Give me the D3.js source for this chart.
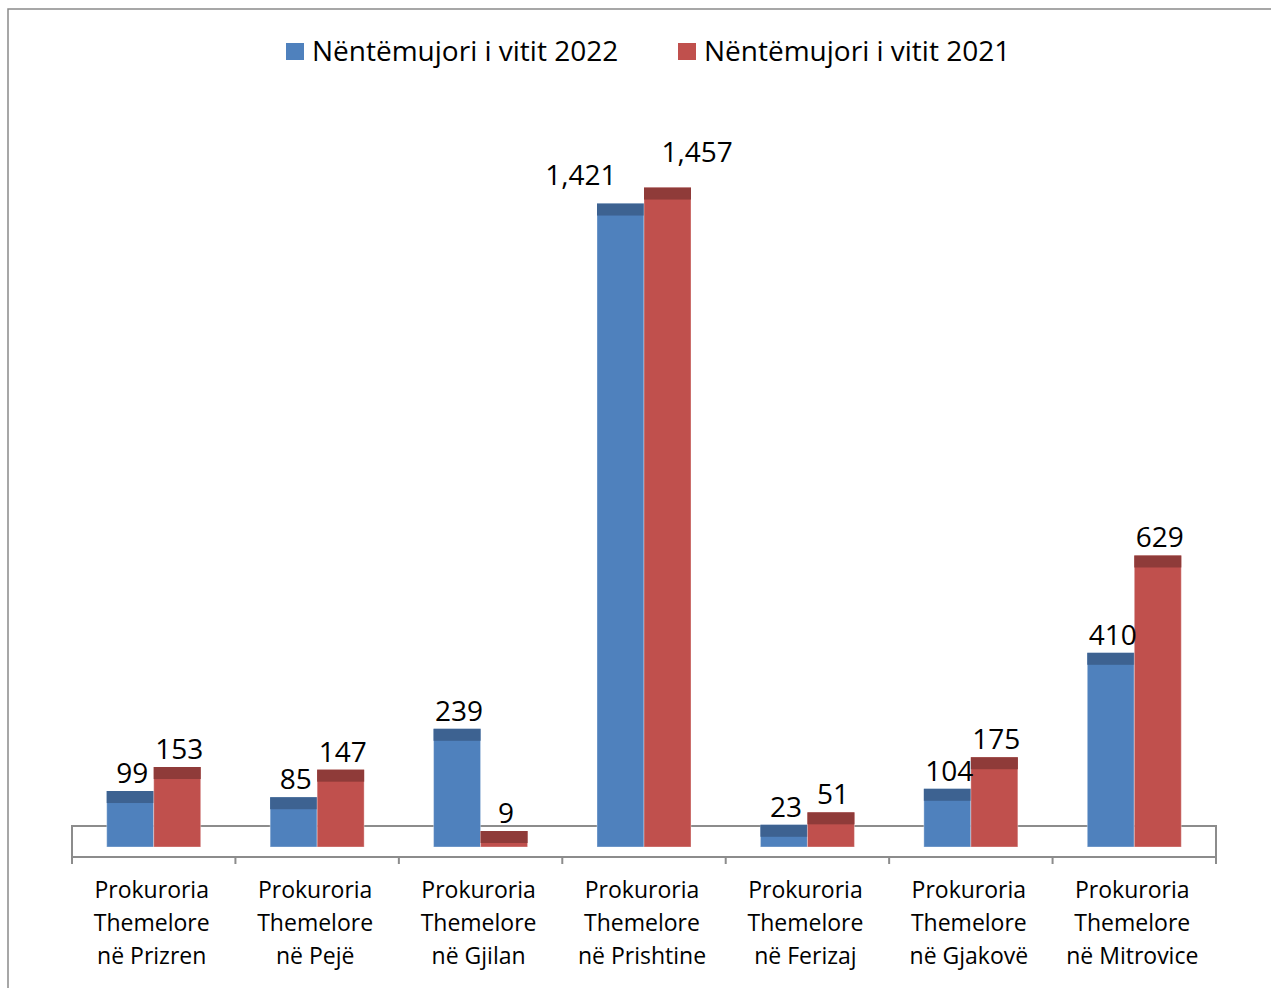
<!DOCTYPE html>
<html>
<head>
<meta charset="utf-8">
<script src="https://cdn.jsdelivr.net/npm/d3@7"></script>
<style>
  body { margin: 0; background: #fff; }
  svg { display: block; font-family: "Open Sans", sans-serif; }
</style>
</head>
<body>
<div id="chart"></div>
<script>
const categories = [
  ["Prokuroria", "Themelore", "në Prizren"],
  ["Prokuroria", "Themelore", "në Pejë"],
  ["Prokuroria", "Themelore", "në Gjilan"],
  ["Prokuroria", "Themelore", "në Prishtine"],
  ["Prokuroria", "Themelore", "në Ferizaj"],
  ["Prokuroria", "Themelore", "në Gjakovë"],
  ["Prokuroria", "Themelore", "në Mitrovice"]
]
const seriesNames = ["Nëntëmujori i vitit 2022", "Nëntëmujori i vitit 2021"]
const values2022 = [99, 85, 239, 1421, 23, 104, 410]
const values2021 = [153, 147, 9, 1457, 51, 175, 629]

const conf = {
  width: 1271, height: 988,
  left: 72, right: 1216,
  floorBack: 826, floorFront: 857, base: 847,
  barWidth: 47, cap: 12,
  colors: ["#4f81bd", "#c0504d"],
  capColors: ["#3d6291", "#8f3b39"],
  grid: "#8c8c8c"
}

const svg = d3.select("#chart").append("svg")
  .attr("width", conf.width).attr("height", conf.height)

// outer frame (top & left edges visible)
svg.append("path")
  .attr("d", `M8,${conf.height} L8,9 L${conf.width},9`)
  .attr("fill", "none").attr("stroke", "#8a8a8a").attr("stroke-width", 1.5)

const x = d3.scaleBand().domain(d3.range(categories.length))
  .range([conf.left, conf.right]).padding(0)
const xs = d3.scaleBand().domain([0, 1])
  .range([-conf.barWidth, conf.barWidth])
const y = d3.scaleLinear().domain([0, 1600]).range([conf.base, 136])

// floor
svg.append("rect")
  .attr("x", conf.left).attr("y", conf.floorBack)
  .attr("width", conf.right - conf.left).attr("height", conf.floorFront - conf.floorBack)
  .attr("fill", "none").attr("stroke", conf.grid).attr("stroke-width", 2)

let ticks = d3.range(categories.length + 1).map(i => conf.left + i * x.bandwidth())
svg.append("g").attr("class", "ticks")
  .selectAll("line").data(ticks).join("line")
  .attr("x1", d => d).attr("x2", d => d)
  .attr("y1", conf.floorFront).attr("y2", conf.floorFront + 7)
  .attr("stroke", conf.grid).attr("stroke-width", 2)

const rows = categories.map((c, i) => [values2022[i], values2021[i]].map((v, s) => ({i, s, v})))
const flat = rows.flat()

const bars = svg.append("g").attr("class", "bars")
  .selectAll("g").data(flat).join("g")
  .attr("transform", d => `translate(${x(d.i) + x.bandwidth() / 2 + xs(d.s)},0)`)

bars.append("rect")
  .attr("y", d => y(d.v) - conf.cap)
  .attr("width", conf.barWidth)
  .attr("height", d => conf.base - y(d.v) + conf.cap)
  .attr("fill", d => conf.colors[d.s])
  .attr("stroke", "#fff").attr("stroke-opacity", 0.35).attr("stroke-width", 1)
bars.append("rect")
  .attr("y", d => y(d.v) - conf.cap)
  .attr("width", conf.barWidth)
  .attr("height", conf.cap)
  .attr("fill", d => conf.capColors[d.s])

// value labels
const fmt = d3.format(",")
const labels = svg.append("g").attr("class", "labels")
  .attr("font-size", 28).attr("fill", "#000")
rows.forEach(pair => {
  let items = pair.map(d => {
    let cx = x(d.i) + x.bandwidth() / 2 + xs(d.s) + conf.barWidth / 2
    let by = y(d.v) - conf.cap - 8
    let t = labels.append("text")
      .attr("x", cx + 2).attr("y", by)
      .attr("text-anchor", "middle").text(fmt(d.v))
    let w = t.node().getComputedTextLength()
    return {d, cx, by, t, x0: cx + 2 - w / 2, x1: cx + 2 + w / 2, y0: by - 21, y1: by}
  })
  let [a, b] = items
  // push apart labels that would collide
  if (a.x1 > b.x0 && a.y1 > b.y0 && b.y1 > a.y0) {
    a.t.attr("text-anchor", "end").attr("x", a.cx - 4).attr("y", a.by - 11)
    b.t.attr("text-anchor", "start").attr("x", b.cx - 6).attr("y", b.by - 18)
  }
})

// category labels
const cat = svg.append("g").attr("class", "categories")
  .attr("font-size", 23).attr("fill", "#000").attr("text-anchor", "middle")
cat.selectAll("text").data(categories).join("text")
  .attr("x", (d, i) => x(i) + x.bandwidth() / 2 - 2)
  .attr("y", 898)
  .selectAll("tspan").data(d => d).join("tspan")
  .attr("x", function() { return this.parentNode.getAttribute("x") })
  .attr("dy", (d, i) => i === 0 ? 0 : 33)
  .text(d => d)

// legend
const legendX = [286, 678]
const legend = svg.append("g").attr("class", "legend")
seriesNames.forEach((name, s) => {
  legend.append("rect")
    .attr("x", legendX[s]).attr("y", 43).attr("width", 18).attr("height", 17)
    .attr("fill", conf.colors[s])
  legend.append("text")
    .attr("x", legendX[s] + 26).attr("y", 61)
    .attr("font-size", 28).text(name)
})
</script>
</body>
</html>
